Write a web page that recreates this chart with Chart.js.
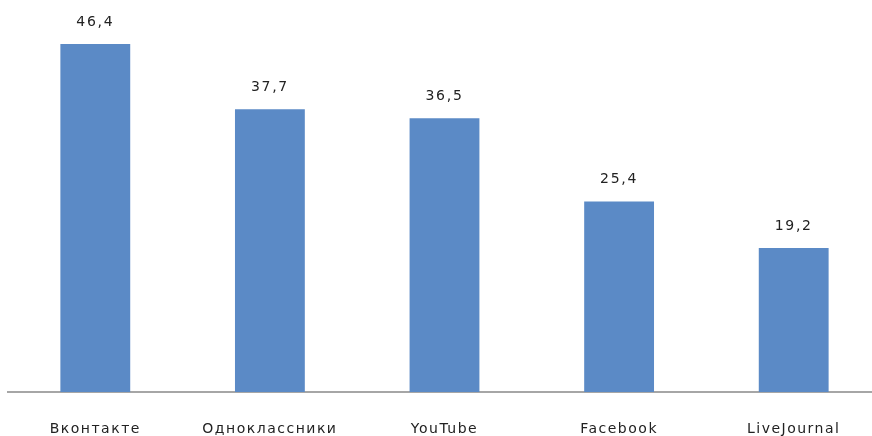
<!DOCTYPE html>
<html><head><meta charset="utf-8">
<script src="https://cdn.jsdelivr.net/npm/chart.js@4/dist/chart.umd.min.js"></script>
<style>html,body{margin:0;padding:0;background:#fff;overflow:hidden}#wrap{width:872px;height:436px;overflow:hidden}</style>
</head><body><div id="wrap"><canvas id="c" width="881" height="436"></canvas></div>
<script>
const categories = ["Вконтакте", "Одноклассники", "YouTube", "Facebook", "LiveJournal"];
const values = [46.4, 37.7, 36.5, 25.4, 19.2];

const spacing = {
  id: 'spacing',
  beforeLayout(chart) { chart.ctx.letterSpacing = '1.5px'; },
  beforeDraw(chart) { chart.ctx.letterSpacing = '1.5px'; }
};

const valueLabels = {
  id: 'valueLabels',
  afterDatasetsDraw(chart) {
    const ctx = chart.ctx;
    const meta = chart.getDatasetMeta(0);
    ctx.save();
    ctx.letterSpacing = '1.7px';
    ctx.font = '14px "DejaVu Sans"';
    ctx.fillStyle = '#222';
    ctx.textAlign = 'center';
    ctx.textBaseline = 'middle';
    meta.data.forEach((bar, i) => {
      ctx.fillText(values[i].toFixed(1).replace('.', ','), bar.x, bar.y - 22);
    });
    ctx.restore();
  }
};

new Chart(document.getElementById('c'), {
  type: 'bar',
  data: {
    labels: categories,
    datasets: [{
      data: values,
      backgroundColor: '#5B8AC6',
      barPercentage: 0.4,
      categoryPercentage: 1
    }]
  },
  options: {
    responsive: false,
    animation: false,
    layout: { padding: { left: 8, right: 0, top: 17, bottom: 0 } },
    plugins: { legend: { display: false }, tooltip: { enabled: false } },
    scales: {
      x: {
        grid: { display: false },
        border: { display: true, color: '#a6a6a6', width: 2 },
        ticks: { color: '#222', font: { family: 'DejaVu Sans', size: 14 }, padding: 21, maxRotation: 0, autoSkip: false },
        afterFit(scale) { scale.height = 44; }
      },
      y: { display: false, min: 0, max: 50 }
    }
  },
  plugins: [spacing, valueLabels]
});
</script></body></html>
